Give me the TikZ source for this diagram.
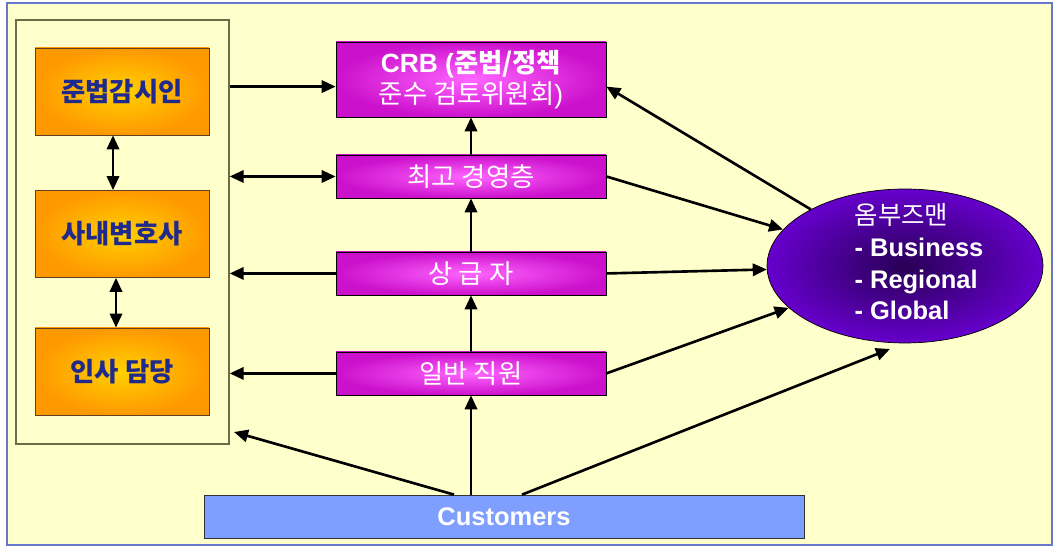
\documentclass[tikz,border=0pt]{standalone}
\usepackage{fontspec}
\setmainfont{Liberation Sans}
\newfontfamily\kr{Noto Sans CJK KR}
\usepackage{xcolor}
\usepackage{tikz}
\usetikzlibrary{shapes.geometric, arrows.meta}
\definecolor{paper}{HTML}{FFFFCC}
\definecolor{frameblue}{HTML}{6677CC}
\definecolor{navytext}{HTML}{1F2A8C}
\definecolor{custblue}{HTML}{7F9FFF}
\tikzstyle{framebox} = [rectangle, minimum width=4.26cm, minimum height=8.48cm, draw=black!65!yellow, fill=paper, line width=0.8pt]
\tikzstyle{staffbox} = [rectangle, minimum width=3.48cm, minimum height=1.74cm, draw=brown!50!black, inner color={rgb,255:red,255;green,208;blue,0}, outer color={rgb,255:red,255;green,153;blue,0}, text=navytext, font=\kr\bfseries\fontsize{15}{17}\selectfont, inner sep=2pt]
\tikzstyle{mgbox} = [rectangle, minimum width=5.4cm, minimum height=0.86cm, draw=black, inner color={rgb,255:red,255;green,102;blue,255}, outer color={rgb,255:red,204;green,17;blue,204}, text=white, font=\kr\fontsize{15}{17}\selectfont, inner sep=2pt]
\tikzstyle{boardbox} = [mgbox, minimum height=1.5cm, align=center, font=\fontsize{15}{17.5}\selectfont]
\tikzstyle{ombud} = [ellipse, minimum width=5.52cm, minimum height=3.08cm, draw=black, inner color={rgb,255:red,40;green,0;blue,85}, outer color={rgb,255:red,102;green,0;blue,204}, text=white, font=\bfseries\fontsize{14.5}{18}\selectfont, inner xsep=0pt, inner ysep=-0.25cm]
\tikzstyle{custbox} = [rectangle, minimum width=12cm, minimum height=0.86cm, draw=black!80, fill=custblue, text=white, font=\bfseries\fontsize{14.5}{16}\selectfont]
\tikzstyle{arrow} = [line width=1.5pt, -{Triangle[length=8pt,width=7pt]}]
\tikzstyle{dblarrow} = [line width=1.5pt, {Triangle[length=8pt,width=7pt]}-{Triangle[length=8pt,width=7pt]}]
\begin{document}
\begin{tikzpicture}[x=0.02cm, y=-0.02cm, node distance=1.94cm]

% Page and background
\useasboundingbox (0,0) rectangle (1056,546);
\draw [frameblue, fill=paper, line width=0.8pt] (7,3) rectangle (1052,545);

% Left group
\node (staff) [framebox] at (122.5,232) {};
\node (cco) [staffbox] at (122,91.5) {준법감시인};
\node (law) [staffbox, below of=cco, node distance=2.85cm] {사내변호사};
\node (hr) [staffbox, below of=law, node distance=2.75cm] {인사 담당};

% Middle column
\node (crb) [boardbox] at (471,79.5) {\bfseries CRB ({\kr\bfseries 준법/정책}\\{\kr 준수 검토위원회})};
\node (top) [mgbox, below of=crb] {최고 경영층};
\node (sup) [mgbox, below of=top] {상 급 자};
\node (emp) [mgbox, below of=sup, node distance=2cm] {일반 직원};

% Ombudsman and customers
\node (omb) [ombud] at (905,266) {\hspace*{0.56cm}\begin{tabular}{@{}l@{}}{\kr\mdseries 옴부즈맨}\\- Business\\- Regional\\- Global\end{tabular}};
\node (cust) [custbox] at (504,516.5) {Customers};
\coordinate (frameend) at (234,432);
\coordinate (ombend) at (890,349);

% Drawing arrows
\draw [arrow] (staff.east |- crb.183) -- (crb.183);
\draw [dblarrow] (staff.east |- top.west) -- (top.west);
\draw [arrow] (sup.west) -- (staff.east |- sup.west);
\draw [arrow] (emp.west) -- (staff.east |- emp.west);
\draw [dblarrow] ([xshift=-0.18cm]cco.south) -- ([xshift=-0.18cm]law.north);
\draw [dblarrow] ([xshift=-0.12cm]law.south) -- ([xshift=-0.12cm]hr.north);
\draw [arrow] (emp) -- (sup);
\draw [arrow] (sup) -- (top);
\draw [arrow] (top) -- (crb);
\draw [arrow] (top.east) -- (omb);
\draw [arrow] (sup.east) -- (omb);
\draw [arrow] (emp.east) -- (omb);
\draw [arrow] (omb) -- (crb.-3);
\draw [arrow] ([xshift=-1cm]cust.north) -- (frameend);
\draw [arrow] (emp.south |- cust.north) -- (emp.south);
\draw [arrow] ([xshift=0.36cm]cust.north) -- (ombend);

\end{tikzpicture}
\end{document}
